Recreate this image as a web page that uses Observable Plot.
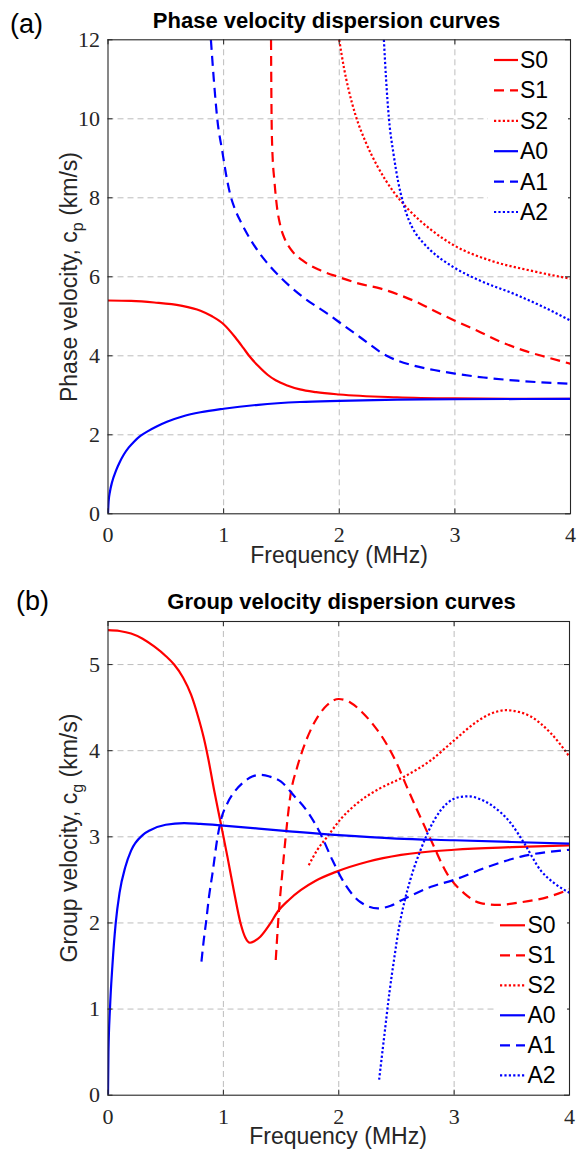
<!DOCTYPE html>
<html><head><meta charset="utf-8">
<script src="https://cdn.jsdelivr.net/npm/d3@7"></script>
<script src="https://cdn.jsdelivr.net/npm/@observablehq/plot@0.6"></script>
<style>
body{margin:0;background:#fff;}
#fig{position:relative;width:585px;height:1149px;background:#fff;}
#fig svg{display:block;overflow:visible;}
</style></head><body><div id="fig"></div>
<script>
// ---------- data ----------
const modeNames = ["S0","S1","S2","A0","A1","A2"];
const modeColors = ["#ff0000","#ff0000","#ff0000","#0000ff","#0000ff","#0000ff"];
const modeDashes = [null,"10 6","2.2 2.2",null,"10 6","2.2 2.2"];
const freqTicks = [0,1,2,3,4];
const phaseTicks = [0,2,4,6,8,10,12];
const groupTicks = [0,1,2,3,4,5];

// phase velocity (MHz, km/s)
const phaseS0 = [[0,5.40],[0.2,5.39],[0.4,5.35],[0.63,5.27],[0.8,5.14],[0.9,5.0],[1.0,4.8],[1.1,4.47],[1.17,4.2],[1.22,4.0],[1.3,3.74],[1.38,3.52],[1.45,3.38],[1.55,3.25],[1.66,3.15],[1.8,3.08],[2.0,3.02],[2.5,2.95],[3.0,2.92],[3.5,2.91],[4.0,2.91]];
const phaseS1 = [[1.41,12],[1.412,11],[1.415,10],[1.42,9.3],[1.44,8.4],[1.46,7.8],[1.49,7.3],[1.53,6.95],[1.58,6.7],[1.68,6.42],[1.84,6.16],[2.0,5.99],[2.18,5.82],[2.36,5.7],[2.53,5.53],[2.7,5.32],[2.82,5.14],[3.0,4.89],[3.19,4.64],[3.4,4.35],[3.6,4.13],[3.8,3.96],[4.0,3.8]];
const phaseS2 = [[2.0,12],[2.04,11.3],[2.08,10.75],[2.14,10.1],[2.23,9.4],[2.33,8.8],[2.47,8.15],[2.6,7.7],[2.79,7.2],[2.99,6.8],[3.31,6.41],[3.65,6.16],[4.0,5.95]];
const phaseA0 = [[0,0],[0.005,0.3],[0.0175,0.57],[0.035,0.8],[0.07,1.1],[0.1,1.3],[0.137,1.5],[0.18,1.68],[0.223,1.82],[0.28,1.97],[0.35,2.1],[0.42,2.21],[0.51,2.33],[0.65,2.47],[0.8,2.57],[1.0,2.66],[1.3,2.76],[1.66,2.83],[2.0,2.86],[2.5,2.89],[3.0,2.9],[4.0,2.91]];
const phaseA1 = [[0.89,12],[0.915,11],[0.945,10],[0.99,9.15],[1.03,8.45],[1.06,8.05],[1.1,7.7],[1.15,7.38],[1.25,6.86],[1.36,6.41],[1.49,5.99],[1.69,5.48],[1.9,5.06],[2.01,4.83],[2.18,4.47],[2.41,4.0],[2.62,3.77],[2.82,3.64],[3.0,3.55],[3.25,3.45],[3.54,3.37],[4.0,3.29]];
const phaseA2 = [[2.386,12],[2.405,11],[2.43,10],[2.47,9.1],[2.51,8.4],[2.55,7.9],[2.6,7.45],[2.65,7.15],[2.72,6.88],[2.79,6.67],[2.99,6.24],[3.22,5.9],[3.51,5.57],[3.77,5.23],[4.0,4.89]];

// group velocity (MHz, km/s)
const groupS0 = [[0,5.4],[0.1,5.39],[0.2,5.36],[0.3,5.3],[0.4,5.21],[0.5,5.1],[0.573,5.0],[0.65,4.85],[0.72,4.65],[0.78,4.4],[0.83,4.15],[0.87,3.9],[0.92,3.54],[0.977,3.16],[1.035,2.77],[1.09,2.38],[1.15,1.99],[1.19,1.83],[1.23,1.77],[1.27,1.79],[1.32,1.84],[1.4,1.98],[1.47,2.13],[1.57,2.27],[1.67,2.38],[1.8,2.49],[1.97,2.59],[2.25,2.71],[2.54,2.79],[3.0,2.85],[3.5,2.88],[4.0,2.9]];
const groupS1 = [[1.454,1.57],[1.48,2.11],[1.51,2.57],[1.54,3.0],[1.58,3.47],[1.64,3.81],[1.685,4.0],[1.79,4.33],[1.9,4.53],[2.0,4.6],[2.1,4.56],[2.2,4.45],[2.3,4.3],[2.4,4.11],[2.5,3.86],[2.6,3.55],[2.7,3.25],[2.8,2.96],[2.94,2.57],[3.09,2.34],[3.23,2.23],[3.38,2.21],[3.58,2.24],[3.81,2.3],[4.0,2.39]];
const groupS2 = [[1.74,2.67],[1.815,2.85],[1.9,3.0],[2.02,3.21],[2.16,3.39],[2.34,3.55],[2.57,3.7],[2.8,3.89],[3.0,4.12],[3.2,4.34],[3.32,4.43],[3.45,4.47],[3.56,4.45],[3.66,4.4],[3.84,4.2],[4.0,3.93]];
const groupA0 = [[0,0],[0.004,0.5],[0.017,1.0],[0.038,1.5],[0.067,2.0],[0.1,2.35],[0.15,2.65],[0.2,2.84],[0.3,3.02],[0.37,3.08],[0.5,3.14],[0.66,3.16],[0.8,3.15],[1.0,3.13],[1.53,3.07],[2.0,3.02],[2.5,2.98],[3.0,2.96],[3.5,2.94],[4.0,2.92]];
const groupA1 = [[0.81,1.55],[0.83,1.8],[0.85,2.01],[0.875,2.3],[0.905,2.57],[0.95,3.0],[0.98,3.2],[1.035,3.39],[1.1,3.53],[1.18,3.64],[1.25,3.7],[1.32,3.72],[1.4,3.7],[1.5,3.64],[1.61,3.48],[1.73,3.29],[1.84,3.04],[1.945,2.73],[2.05,2.46],[2.19,2.24],[2.34,2.17],[2.45,2.2],[2.54,2.26],[2.8,2.42],[3.0,2.5],[3.29,2.65],[3.58,2.77],[4.0,2.85]];
const groupA2 = [[2.35,0.18],[2.4,0.75],[2.44,1.2],[2.48,1.58],[2.52,1.93],[2.57,2.25],[2.62,2.5],[2.71,2.85],[2.83,3.2],[2.94,3.39],[3.04,3.46],[3.13,3.47],[3.22,3.44],[3.32,3.37],[3.49,3.16],[3.61,2.92],[3.75,2.61],[3.87,2.46],[4.0,2.35]];

const phaseCurves = [phaseS0, phaseS1, phaseS2, phaseA0, phaseA1, phaseA2];
const groupCurves = [groupS0, groupS1, groupS2, groupA0, groupA1, groupA2];

// ---------- drawing ----------
const INK = "#262626";
const SANS = "'Liberation Sans', Arial, sans-serif";
const SERIF = "'Liberation Serif', 'DejaVu Serif', serif";

function txt(sel, x, y, str, font, size, anchor, weight) {
  return sel.append("text").attr("x", x).attr("y", y).attr("text-anchor", anchor || "start")
    .attr("font-family", font).attr("font-size", size).attr("font-weight", weight || "normal")
    .style("font-family", font).style("font-size", size + "px").style("font-weight", weight || "normal")
    .attr("fill", "black").text(str);
}

function panel(cfg) {
  const plotH = cfg.height - cfg.marginTop - cfg.marginBottom;
  const plotW = 585 - cfg.marginLeft - cfg.marginRight;
  const lines = cfg.curves.map((c, i) => Plot.line(c, {
    x: d => d[0], y: d => d[1], stroke: modeColors[i], strokeWidth: 2.2,
    strokeLinecap: "butt", strokeLinejoin: "round",
    strokeDasharray: modeDashes[i] || undefined, curve: "monotone-x", clip: true
  }));
  const grid = {stroke: "#bdbdbd", strokeOpacity: 1, strokeWidth: 1, strokeDasharray: "6 4"};
  const svg = Plot.plot({
    width: 585, height: cfg.height,
    marginTop: cfg.marginTop, marginBottom: cfg.marginBottom,
    marginLeft: cfg.marginLeft, marginRight: cfg.marginRight,
    style: {background: "white", overflow: "visible"},
    x: {domain: [0, 4]},
    y: {domain: cfg.yDomain},
    marks: [
      Plot.gridX(freqTicks.slice(1, -1), grid),
      Plot.gridY(cfg.gridTicks, grid),
      ...lines,
      Plot.tickX(freqTicks, {x: d => d, stroke: INK, insetTop: plotH - 5}),
      Plot.tickX(freqTicks, {x: d => d, stroke: INK, insetBottom: plotH - 5}),
      Plot.tickY(cfg.yTicks, {y: d => d, stroke: INK, insetRight: plotW - 5}),
      Plot.tickY(cfg.yTicks, {y: d => d, stroke: INK, insetLeft: plotW - 5}),
      Plot.frame({stroke: INK, strokeWidth: 1.1}),
      Plot.axisX({ticks: freqTicks, tickSize: 0, tickPadding: 13, label: null,
        tickFormat: d => String(d), fontFamily: "Liberation Serif", fontSize: 22, fill: INK}),
      Plot.axisY({ticks: cfg.yTicks, tickSize: 0, tickPadding: 8, label: null,
        tickFormat: d => String(d), fontFamily: "Liberation Serif", fontSize: 22, fill: INK})
    ]
  });
  const s = d3.select(svg);
  s.selectAll("text").attr("font-family", SERIF).style("font-family", SERIF).style("font-size", "22px");
  // legend
  const lg = s.append("g");
  lg.append("rect").attr("x", cfg.legend.box[0]).attr("y", cfg.legend.box[1])
    .attr("width", cfg.legend.box[2]).attr("height", cfg.legend.box[3]).attr("fill", "white");
  modeNames.forEach((name, i) => {
    const yb = cfg.legend.y0 + i * cfg.legend.dy;
    const ln = lg.append("line").attr("x1", cfg.legend.x1).attr("x2", cfg.legend.x2)
      .attr("y1", yb - 8).attr("y2", yb - 8).attr("stroke", modeColors[i]).attr("stroke-width", 2.2);
    if (modeDashes[i]) ln.attr("stroke-dasharray", modeDashes[i]);
    txt(lg, cfg.legend.tx, yb, name, SANS, 23);
  });
  txt(s, cfg.letter[0], cfg.letter[1], cfg.letter[2], SANS, 27);
  txt(s, cfg.title[0], cfg.title[1], cfg.title[2], SANS, 22, "middle", "bold");
  txt(s, cfg.xlab[0], cfg.xlab[1], "Frequency (MHz)", SANS, 23, "middle").attr("fill", INK);
  // y label with subscript
  const yt = txt(s, 0, 0, null, SANS, 23, "middle")
    .attr("x", null).attr("y", null).attr("fill", INK)
    .attr("transform", `translate(${cfg.ylab[0]},${cfg.ylab[1]}) rotate(-90)`);
  yt.append("tspan").text(cfg.ylab[2]);
  yt.append("tspan").attr("dy", 6).style("font-size", "16px").text(cfg.ylab[3]);
  yt.append("tspan").attr("dy", -6).text(" (km/s)");
  return svg;
}

const fig = document.getElementById("fig");
fig.appendChild(panel({
  height: 570, marginTop: 39.3, marginBottom: 56.7, marginLeft: 107.5, marginRight: 15,
  yDomain: [0, 12], yTicks: phaseTicks, gridTicks: [2,4,6,8,10], curves: phaseCurves,
  legend: {box: [488, 44, 80, 184], x1: 494, x2: 518, tx: 520, y0: 68, dy: 30.4},
  letter: [10, 33, "(a)"],
  title: [326.5, 28.3, "Phase velocity dispersion curves"],
  xlab: [339, 563],
  ylab: [77, 277, "Phase velocity, c", "p"]
}));
fig.appendChild(panel({
  height: 579, marginTop: 51, marginBottom: 54.3, marginLeft: 107.5, marginRight: 16,
  yDomain: [0, 5.5], yTicks: groupTicks, gridTicks: [1,2,3,4,5], curves: groupCurves,
  legend: {box: [494, 336, 73, 184], x1: 500, x2: 525, tx: 527.5, y0: 363.3, dy: 30},
  letter: [16, 40, "(b)"],
  title: [341.5, 39.3, "Group velocity dispersion curves"],
  xlab: [338, 574],
  ylab: [77, 268, "Group velocity, c", "g"]
}));
</script></body></html>
